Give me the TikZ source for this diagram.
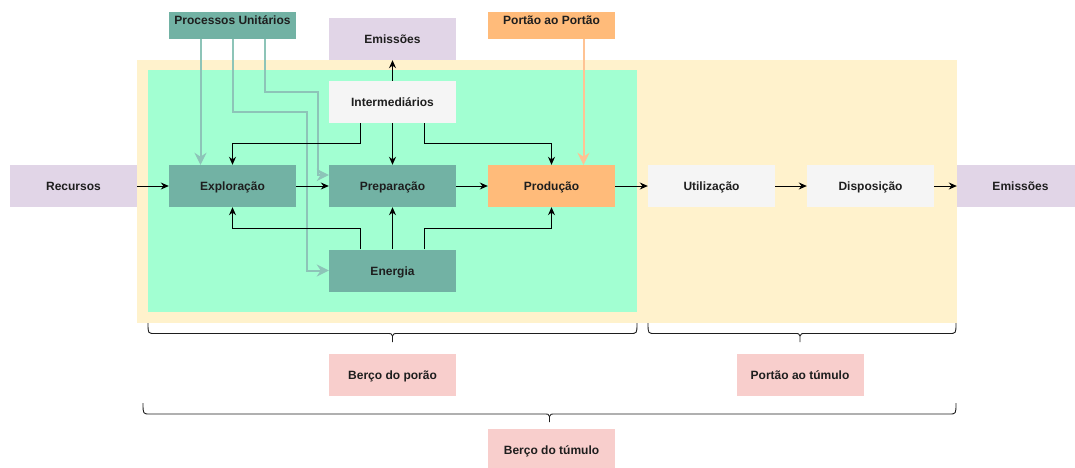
\documentclass[tikz,border=0pt]{standalone}
\usepackage{fontspec}
\setmainfont{Liberation Sans}
\usetikzlibrary{arrows.meta,calc}
\definecolor{cyel}{HTML}{FFF2CC}
\definecolor{cgrn}{HTML}{A2FFD2}
\definecolor{cpur}{HTML}{E1D5E7}
\definecolor{cteal}{HTML}{72B2A4}
\definecolor{cteall}{HTML}{8DC4B8}
\definecolor{corg}{HTML}{FFBB7A}
\definecolor{corgl}{HTML}{FFC393}
\definecolor{cgry}{HTML}{F5F5F5}
\definecolor{cpnk}{HTML}{F8CECC}
\definecolor{ctxt}{HTML}{1E1E1E}
\begin{document}
\begin{tikzpicture}[x=1pt,y=-1pt,
  box/.style={minimum width=127pt,minimum height=42pt,inner sep=0pt,text=ctxt,
    text height=9pt,text depth=0pt,
    font=\fontsize{12}{14}\selectfont\bfseries},
  tbox/.style={box,minimum height=27pt,text height=7.5pt,text depth=10.5pt},
  arr/.style={line width=0.9pt,-{Stealth[length=8pt,width=7pt]}},
  tarr/.style={draw=cteall,line width=2pt,-{Stealth[length=12pt,width=12pt]}},
  oarr/.style={draw=corgl,line width=2pt,-{Stealth[length=12pt,width=12pt]}},
  br/.style={line width=0.9pt,draw=ctxt}
]
\useasboundingbox (0,0) rectangle (1075,467);
% backgrounds
\fill[cyel] (137,60) rectangle (957,323);
\fill[cgrn] (148,70) rectangle (637,312);
% nodes
\node[box,fill=cpur] (rec) at (73.5,186) {Recursos};
\node[box,fill=cteal] (exp) at (232.5,186) {Exploração};
\node[box,fill=cteal] (prep) at (392.5,186) {Preparação};
\node[box,fill=corg] (prod) at (551.5,186) {Produção};
\node[box,fill=cgry] (inter) at (392.5,102) {Intermediários};
\node[box,fill=cpur] (emt) at (392.5,39) {Emissões};
\node[box,fill=cteal] (ener) at (392.5,270.5) {Energia};
\node[tbox,fill=cteal] (proc) at (232.5,25.5) {Processos Unitários};
\node[tbox,fill=corg] (port) at (551.5,25.5) {Portão ao Portão};
\node[box,fill=cgry] (util) at (711.5,186) {Utilização};
\node[box,fill=cgry] (disp) at (870.5,186) {Disposição};
\node[box,fill=cpur] (emr) at (1020.5,186) {Emissões};
\node[box,fill=cpnk] (bporao) at (392.5,375) {Berço do porão};
\node[box,fill=cpnk] (ptumulo) at (800,375) {Portão ao túmulo};
\node[box,fill=cpnk] (btumulo) at (551.5,450) {Berço do túmulo};
% teal arrows
\draw[tarr] ([xshift=-32pt]proc.south) -- ([xshift=-32pt]exp.north);
\draw[tarr] (proc.south) -- ++(0,73) -| ($(ener.west)+(-22,0)$) -- (ener.west);
\draw[tarr] ([xshift=32pt]proc.south) -- ++(0,53) -| ($(prep.west)+(-11,-11)$) -- ($(prep.west)+(0,-11)$);
% orange arrow
\draw[oarr] ([xshift=32pt]port.south) -- ([xshift=32pt]prod.north);
% black arrows
\draw[arr] (rec) -- (exp);
\draw[arr] (exp) -- (prep);
\draw[arr] (prep) -- (prod);
\draw[arr] (prod) -- (util);
\draw[arr] (util) -- (disp);
\draw[arr] (disp) -- (emr);
\draw[arr] (inter.north) -- (emt.south);
\draw[arr] (inter.south) -- (prep.north);
\draw[arr] ([xshift=-32pt]inter.south) |- ($(exp.north)+(0,-21)$) -- (exp.north);
\draw[arr] ([xshift=32pt]inter.south) |- ($(prod.north)+(0,-21)$) -- (prod.north);
\draw[arr] (ener.north) -- (prep.south);
\draw[arr] ([xshift=-32pt]ener.north) |- ($(exp.south)+(0,21)$) -- (exp.south);
\draw[arr] ([xshift=32pt]ener.north) |- ($(prod.south)+(0,21)$) -- (prod.south);
% braces
\draw[br] (148,323) .. controls (148,333.5) .. (155,333.5) -- (386.5,333.5) .. controls (391.5,333.5) .. (392.5,336) -- (392.5,342);
\draw[br] (637,323) .. controls (637,333.5) .. (630,333.5) -- (398.5,333.5) .. controls (393.5,333.5) .. (392.5,336);
\draw[br] (648,323) .. controls (648,333.5) .. (655,333.5) -- (794,333.5) .. controls (799,333.5) .. (800,336) -- (800,342);
\draw[br] (956,323) .. controls (956,333.5) .. (949,333.5) -- (806,333.5) .. controls (801,333.5) .. (800,336);
\draw[br] (143,403) .. controls (143,414) .. (150,414) -- (543.5,414) .. controls (548.5,414) .. (549.5,416.5) -- (549.5,422);
\draw[br] (956,403) .. controls (956,414) .. (949,414) -- (555.5,414) .. controls (550.5,414) .. (549.5,416.5);
\end{tikzpicture}
\end{document}
